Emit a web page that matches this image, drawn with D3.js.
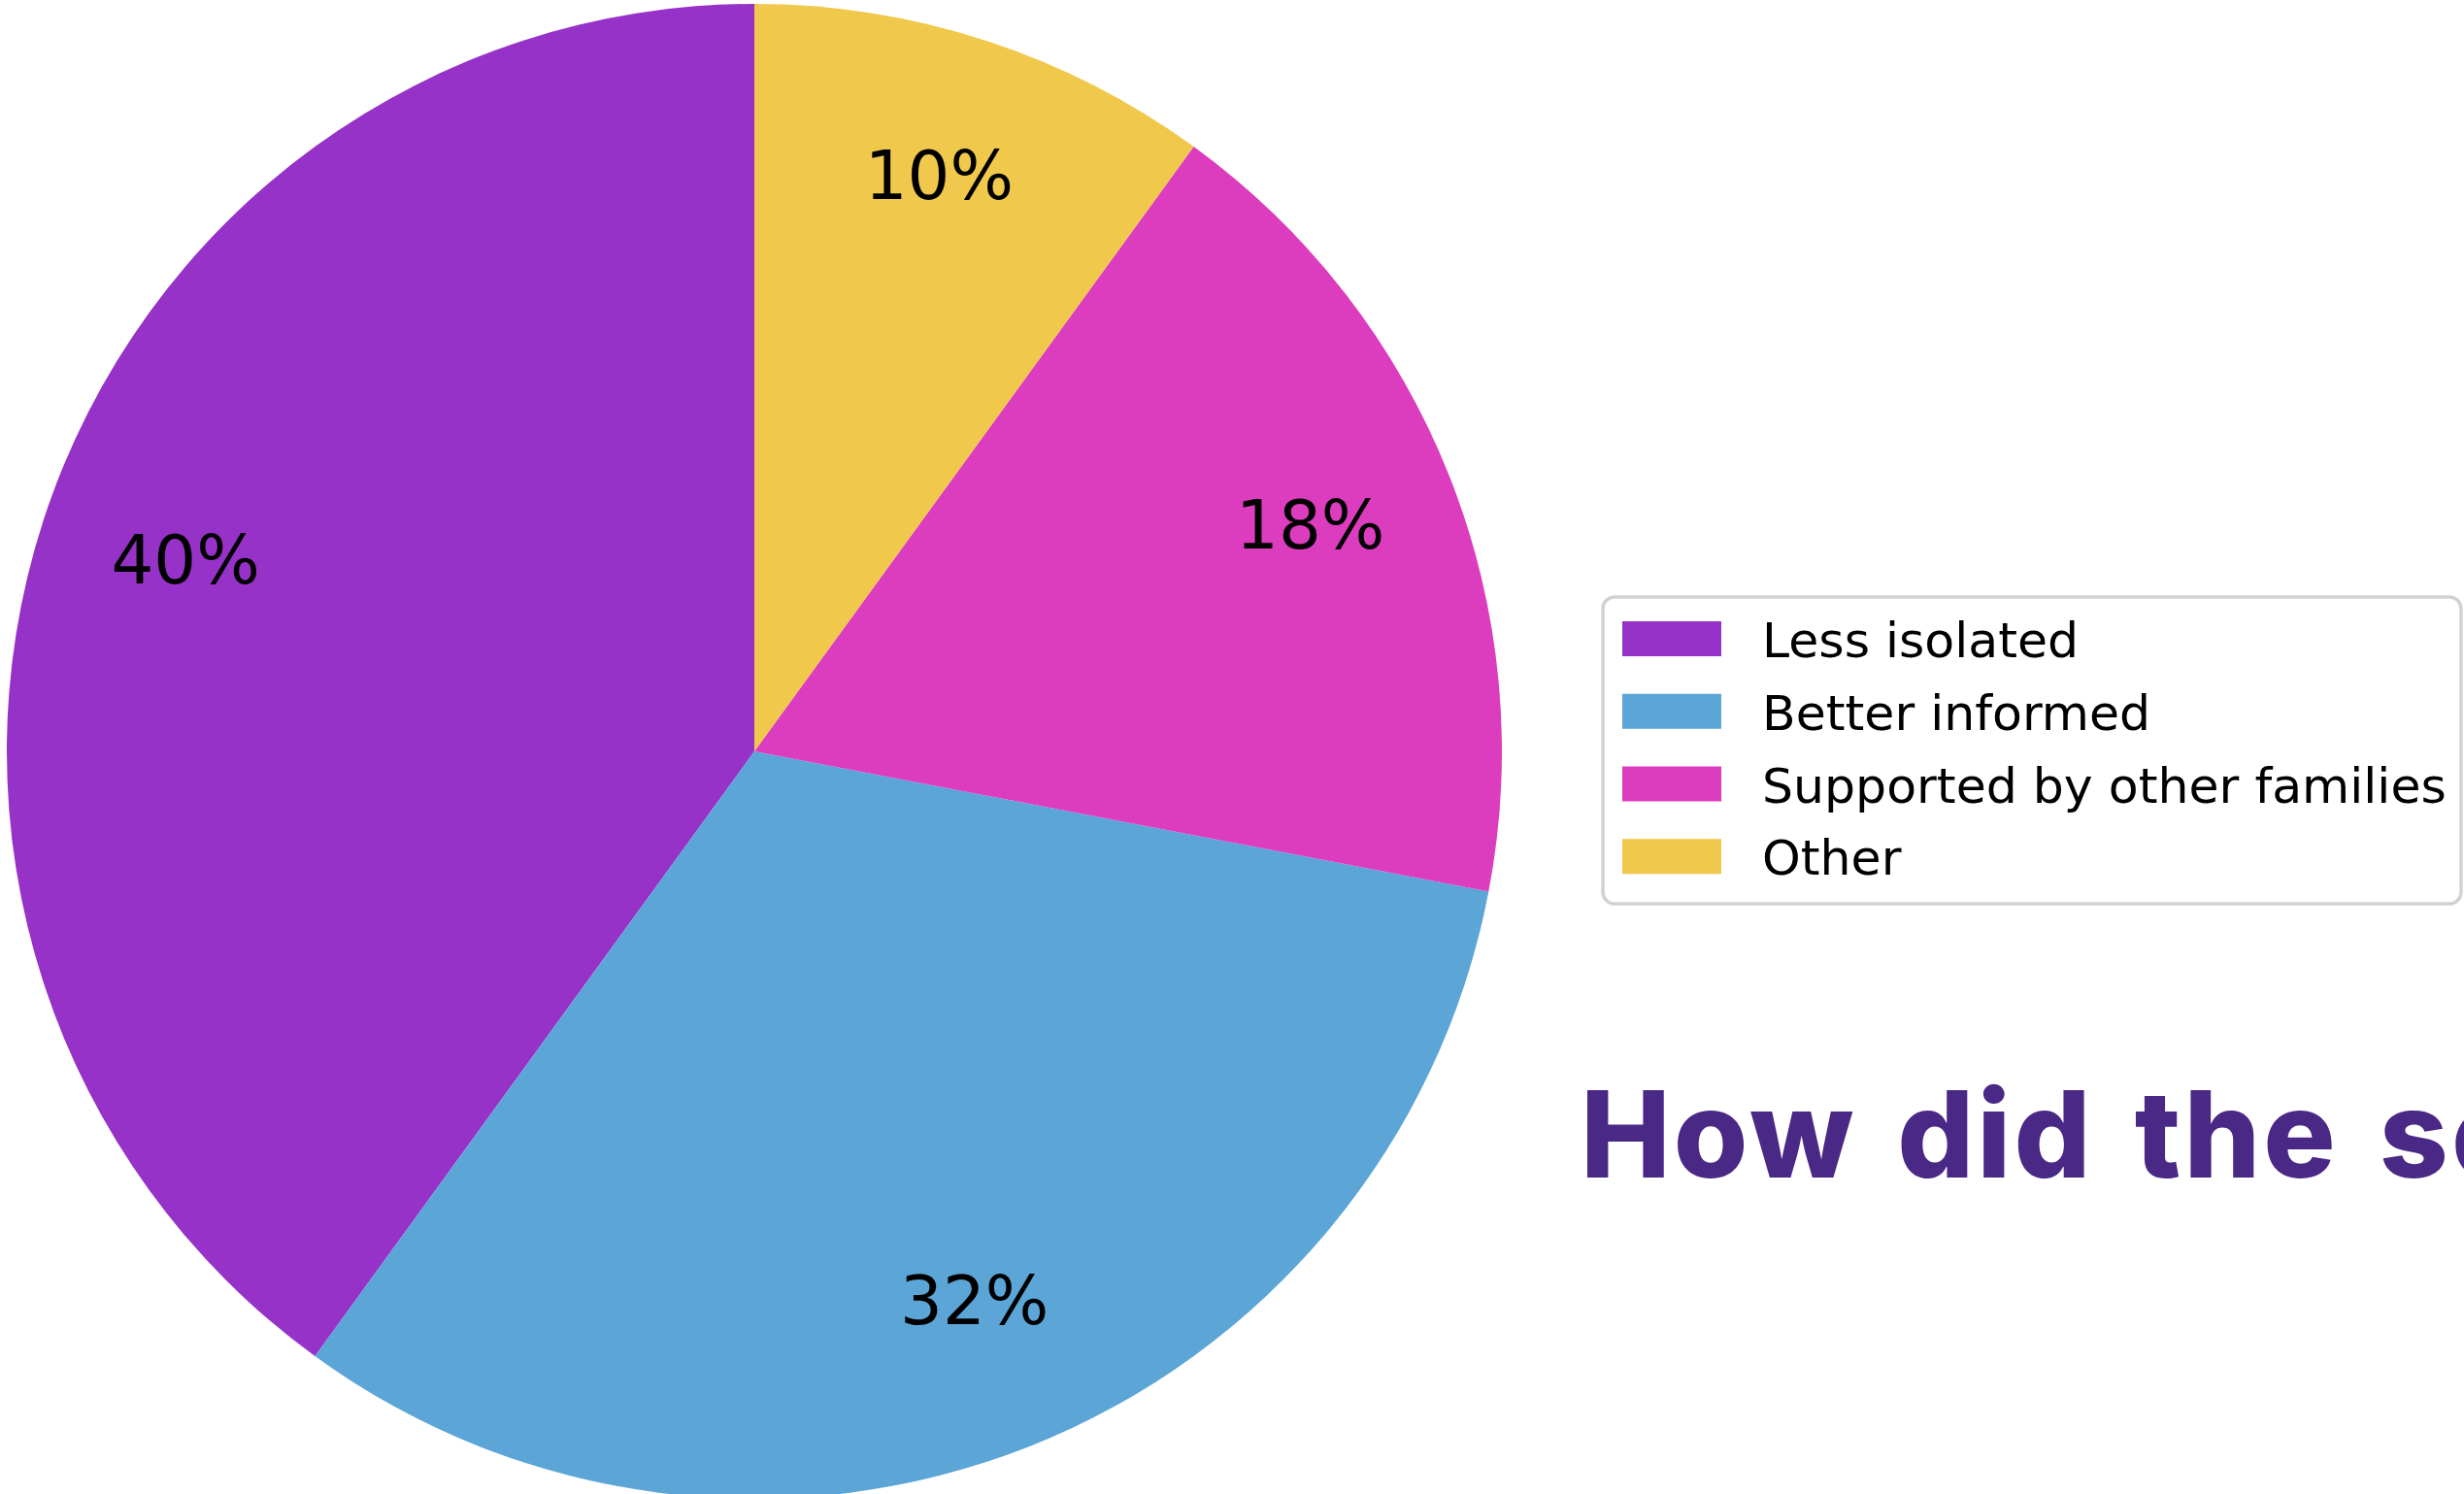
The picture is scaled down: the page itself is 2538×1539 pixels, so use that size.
<!DOCTYPE html>
<html>
<head>
<meta charset="utf-8">
<script src="https://cdn.jsdelivr.net/npm/d3@7"></script>
<style>
  body { margin: 0; background: #fff; overflow: hidden; }
</style>
</head>
<body>
<div id="chart-area"></div>
<script>

const categories = ['Less isolated', 'Better informed', 'Supported by other families', 'Other'];
const values = [40, 32, 18, 10];
const colors = ['#9632c8', '#5ba5d7', '#dc3cbe', '#f0c84b'];
const title = 'How did the se';

let width = 2538;
let height = 1539;

const svg = d3.select('#chart-area').append('svg')
	.attr('width', width)
	.attr('height', height)
	.style('display', 'block');

let data = categories.map((c, i) => ({ name: c, value: values[i], color: colors[i] }));

// pie center and radius
let cx = 777, cy = 774, radius = 770;

let g = svg.append('g')
	.attr('transform', 'translate(' + cx + ', ' + cy + ')');

// counter clockwise from the top, like matplotlib startangle=90
let pie = d3.pie()
	.sort(null)
	.value(d => d.value)
	.startAngle(0)
	.endAngle(-2 * Math.PI);

let arc = d3.arc().innerRadius(0).outerRadius(radius);
let labelArc = d3.arc().innerRadius(radius * 0.8).outerRadius(radius * 0.8);

let total = d3.sum(values);

g.selectAll('path')
	.data(pie(data))
	.enter()
	.append('path')
		.attr('d', arc)
		.attr('fill', d => d.data.color);

let pctSize = 69;
g.selectAll('.pct')
	.data(pie(data))
	.enter()
	.append('text')
		.attr('class', 'pct')
		.attr('x', d => labelArc.centroid(d)[0])
		.attr('y', d => labelArc.centroid(d)[1] + pctSize * 0.25)
		.attr('text-anchor', 'middle')
		.attr('font-family', 'DejaVu Sans')
		.attr('font-size', pctSize + 'px')
		.attr('fill', '#000')
		.text(d => Math.round(d.data.value / total * 100) + '%');

// legend
let legend = svg.append('g')
	.attr('transform', 'translate(1651, 615)');

legend.append('rect')
	.attr('width', 884)
	.attr('height', 316)
	.attr('rx', 12)
	.attr('fill', '#fff')
	.attr('stroke', '#d2d2d2')
	.attr('stroke-width', 3.5);

let rowY = d3.scaleBand()
	.domain(categories)
	.range([25, 324])
	.paddingInner(0);

legend.selectAll('.swatch')
	.data(data)
	.enter()
	.append('rect')
		.attr('class', 'swatch')
		.attr('x', 20)
		.attr('y', d => rowY(d.name))
		.attr('width', 102)
		.attr('height', 36)
		.attr('fill', d => d.color);

legend.selectAll('.lbl')
	.data(data)
	.enter()
	.append('text')
		.attr('class', 'lbl')
		.attr('x', 164)
		.attr('y', d => rowY(d.name) + 37)
		.attr('font-family', 'DejaVu Sans')
		.attr('font-size', '50.5px')
		.attr('fill', '#000')
		.text(d => d.name);

// title, runs off the right edge
svg.append('text')
	.attr('x', 1628)
	.attr('y', 1213)
	.attr('font-family', 'Inter, sans-serif')
	.attr('font-weight', 800)
	.attr('font-size', '124px')
	.attr('letter-spacing', '3px')
	.attr('word-spacing', '12px')
	.attr('fill', '#4a2885')
	.text(title);

</script>
</body>
</html>
